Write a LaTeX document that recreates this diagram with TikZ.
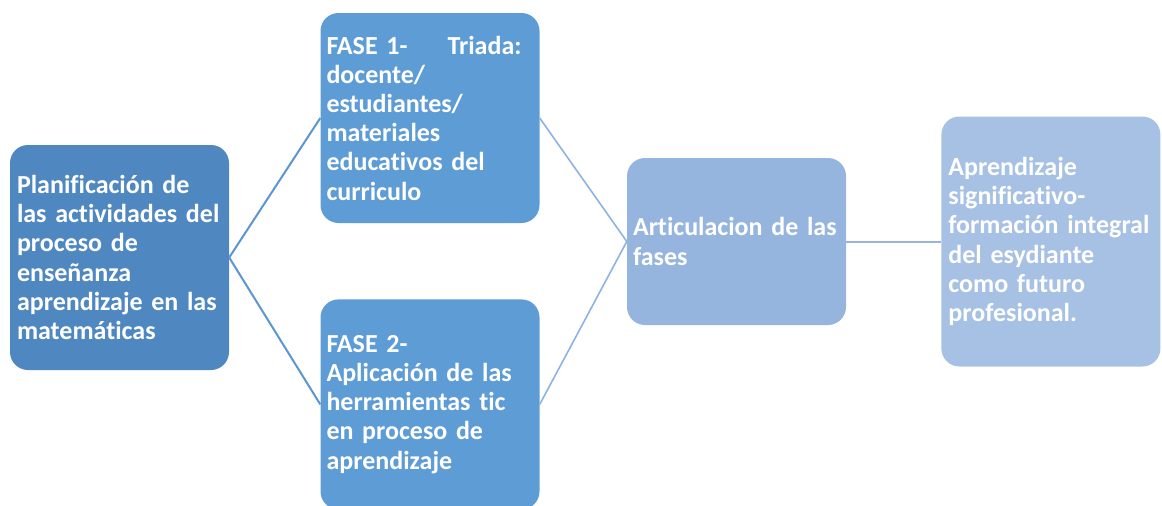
\documentclass[tikz,border=0pt]{standalone}
\usepackage{fontspec}
\setmainfont{Carlito}[Ligatures=NoCommon]
\usetikzlibrary{positioning}
\definecolor{plancol}{HTML}{4F88C0}
\definecolor{fasecol}{HTML}{5E9CD6}
\definecolor{artcol}{HTML}{95B5DF}
\definecolor{aprcol}{HTML}{A6C1E3}
\definecolor{linkdark}{HTML}{5B96D2}
\definecolor{linklight}{HTML}{8DB3E2}
\tikzstyle{base} = [rectangle, rounded corners=18pt, inner xsep=0pt, inner ysep=0pt,
 text=white, font=\fontsize{26}{29.2}\selectfont\bfseries]
\tikzstyle{box} = [base, minimum width=219pt, text width=219pt]
\tikzstyle{link} = [line width=2pt, draw=linkdark]
\tikzstyle{linkthin} = [line width=1.6pt, draw=linklight]
\tikzset{lpad/.style={execute at begin node={\leftskip=#1\relax\rightskip=-10pt plus 1fil\relax}}}

\begin{document}
\begin{tikzpicture}[x=1pt, y=1pt]
\useasboundingbox (0,0) rectangle (1162,-506);

\node (PLAN) [box, fill=plancol, lpad=7pt, minimum height=225pt] at (119.5,-257.5)
    {Planificación de\\las actividades del\\proceso de\\enseñanza\\aprendizaje en las\\matemáticas};

\node (FASE1) [box, fill=fasecol, lpad=6pt, minimum height=210pt] at (430,-118)
    {\makebox[195pt]{FASE 1-\hfill Triada:}\\docente/\\estudiantes/\\materiales\\educativos del\\curriculo};

\node (FASE2) [box, fill=fasecol, lpad=6pt, minimum height=210pt, below=76pt of FASE1]
    {FASE 2-\\Aplicación de las\\herramientas tic\\en proceso de\\aprendizaje};

\node (ART) [box, fill=artcol, lpad=6pt, minimum height=167pt] at (736.5,-241.5)
    {Articulacion de las\\fases};

\node (APR) [box, fill=aprcol, lpad=7pt, minimum height=250pt, right=95pt of ART]
    {Aprendizaje\\significativo-\\formación integral\\del esydiante\\como futuro\\profesional.};

% Links
\draw[link] (PLAN.east) -- (FASE1.west);
\draw[link] (PLAN.east) -- (FASE2.west);
\draw[linkthin] (FASE1.east) -- (ART.west);
\draw[linkthin] (FASE2.east) -- (ART.west);
\draw[link, draw=artcol] (ART.east) -- (APR.west);

\end{tikzpicture}
\end{document}
